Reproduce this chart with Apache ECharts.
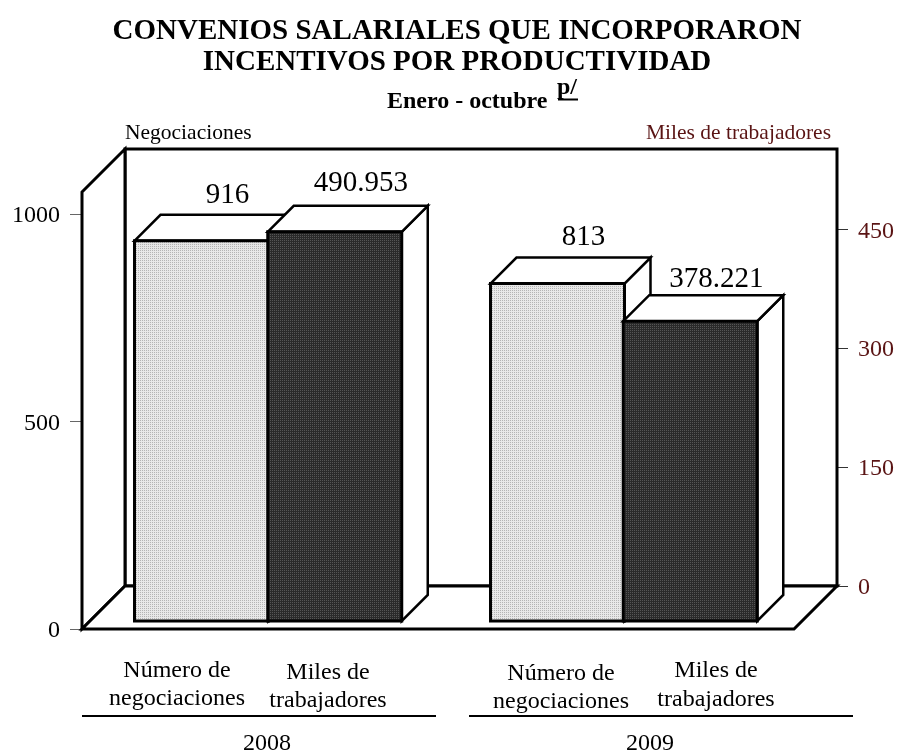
<!DOCTYPE html>
<html><head><meta charset="utf-8">
<style>html,body{margin:0;padding:0;background:#fff}#c{width:897px;height:751px}</style>
<script src="https://cdn.jsdelivr.net/npm/echarts@6/dist/echarts.min.js"></script>
</head><body><div id="c"></div>
<script>
const years = ['2008', '2009'];
const negociaciones = [916, 813];
const trabajadores = [490.953, 378.221];
const leftTicks = [0, 500, 1000];
const rightTicks = [0, 150, 300, 450];
const seriesLabels = ['Número de\nnegociaciones', 'Miles de\ntrabajadores'];

const SERIF = '"Liberation Serif","Times New Roman",serif';
const MAROON = '#5a1414';
function pattern(a, b) {
  const c = document.createElement('canvas'); c.width = 2; c.height = 2;
  const g = c.getContext('2d');
  g.fillStyle = a; g.fillRect(0, 0, 2, 2);
  g.fillStyle = b; g.fillRect(0, 0, 1, 1);
  return {image: c, repeat: 'repeat'};
}
const lightFill = pattern('#e8e8e8', '#b4b4b4');
const darkFill = pattern('#2a2a2a', '#555555');
const DEPTH = 26, WALL = 43, BW = 134;

function bar3d(fill, side, baseShift, topShift, xShift, labelDy, fmt) {
  return function (params, api) {
    const i = api.value(0), v = api.value(1);
    const p = api.coord([i, v]), p0 = api.coord([i, 0]);
    const cx = p[0] + xShift + side * BW / 2;
    const l = cx - BW / 2, r = cx + BW / 2;
    const t = p[1] + topShift, b = p0[1] + baseShift;
    const st = {fill: '#fff', stroke: '#000', lineWidth: 2.5, lineJoin: 'miter'};
    return {type: 'group', children: [
      {type: 'polygon', shape: {points: [[r, t], [r + DEPTH, t - DEPTH], [r + DEPTH, b - DEPTH], [r, b]]}, style: st},
      {type: 'polygon', shape: {points: [[l, t], [l + DEPTH, t - DEPTH], [r + DEPTH, t - DEPTH], [r, t]]}, style: st},
      {type: 'rect', shape: {x: l, y: t, width: BW, height: b - t}, style: {fill: fill, stroke: '#000', lineWidth: 3}},
      {type: 'text', x: cx + DEPTH, y: t - DEPTH - labelDy[i], style: {text: fmt(v), fill: '#000', font: '29px ' + SERIF, textAlign: 'center', textVerticalAlign: 'bottom'}}
    ]};
  };
}

function walls(params) {
  const c = params.coordSys;
  const x = c.x, y = c.y, w = c.width, h = c.height, bot = y + h;
  const st = {fill: '#fff', stroke: '#000', lineWidth: 3, lineJoin: 'miter'};
  return {type: 'group', children: [
    {type: 'polygon', shape: {points: [[x + WALL, y - WALL], [x + w + WALL, y - WALL], [x + w + WALL, bot - WALL], [x + WALL, bot - WALL]]}, style: st},
    {type: 'polygon', shape: {points: [[x, y], [x + WALL, y - WALL], [x + WALL, bot - WALL], [x, bot]]}, style: st},
    {type: 'polygon', shape: {points: [[x, bot], [x + WALL, bot - WALL], [x + w + WALL, bot - WALL], [x + w, bot]]}, style: st}
  ]};
}

const txt = (text, x, y, fs, extra) => ({type: 'text', x, y, silent: true, style: Object.assign({text, font: fs + 'px ' + SERIF, fill: '#000', textAlign: 'center', textVerticalAlign: 'middle', lineHeight: 28.5}, extra || {})});
const rule = (x1, x2, y) => ({type: 'line', shape: {x1, y1: y, x2, y2: y}, style: {stroke: '#000', lineWidth: 2}});

const chart = echarts.init(document.getElementById('c'));
chart.setOption({
  animation: false,
  backgroundColor: '#fff',
  title: [
    {text: 'CONVENIOS SALARIALES QUE INCORPORARON\nINCENTIVOS POR PRODUCTIVIDAD', left: 452, top: 11, textAlign: 'center',
     textStyle: {fontFamily: SERIF, fontWeight: 'bold', fontSize: 29, lineHeight: 31, color: '#000'}},
    {text: 'Enero - octubre', left: 382, top: 85, textStyle: {fontFamily: SERIF, fontWeight: 'bold', fontSize: 24, color: '#000'}}
  ],
  grid: [
    {left: 82, top: 192, width: 712, height: 437},
    {left: 125, top: 150, width: 712, height: 436}
  ],
  xAxis: [
    {gridIndex: 0, type: 'category', data: years, axisLabel: {show: false},
     axisLine: {show: false}, axisTick: {alignWithLabel: true, length: 12, lineStyle: {color: '#222', width: 1}}},
    {gridIndex: 1, type: 'category', data: years, show: false}
  ],
  yAxis: [
    {gridIndex: 0, type: 'value', min: 0, max: 1053, position: 'left', splitLine: {show: false},
     axisLine: {show: false},
     axisTick: {show: true, length: 12, customValues: leftTicks, lineStyle: {color: '#666', width: 1}},
     axisLabel: {margin: 22, verticalAlign: 'top', lineHeight: 4, customValues: leftTicks, formatter: v => String(v), fontFamily: SERIF, fontSize: 24, color: '#000'}},
    {gridIndex: 1, type: 'value', min: 0, max: 550, position: 'right', splitLine: {show: false},
     axisLine: {show: false},
     axisTick: {show: true, length: 12, customValues: rightTicks, lineStyle: {color: '#333', width: 1}},
     axisLabel: {margin: 22, verticalAlign: 'top', lineHeight: 4, customValues: rightTicks, formatter: v => String(v), fontFamily: SERIF, fontSize: 24, color: MAROON}}
  ],
  series: [
    {type: 'custom', name: 'walls', xAxisIndex: 0, yAxisIndex: 0, data: [[0, 0]], renderItem: walls, silent: true, z: 1, clip: false},
    {type: 'custom', name: 'Número de negociaciones', xAxisIndex: 0, yAxisIndex: 0, z: 2, silent: true, clip: false,
     data: negociaciones.map((v, i) => [i, v]),
     renderItem: bar3d(lightFill, -1, -8, -8, 8.5, [5, 6], v => String(v))},
    {type: 'custom', name: 'Miles de trabajadores', xAxisIndex: 1, yAxisIndex: 1, z: 3, silent: true, clip: false,
     data: trabajadores.map((v, i) => [i, v]),
     renderItem: bar3d(darkFill, 1, 35, 35, -35, [8, 1], v => v.toFixed(3))}
  ],
  graphic: {elements: [
    txt('p/', 567, 88, 24, {font: 'bold 24px ' + SERIF}),
    rule(558, 578, 99.5),
    txt('Negociaciones', 125, 133, 21.5, {textAlign: 'left'}),
    txt('Miles de trabajadores', 831, 133, 21.5, {textAlign: 'right', fill: MAROON}),
    txt(seriesLabels[0], 177, 684.5, 24),
    txt(seriesLabels[1], 328, 686.5, 24),
    txt(seriesLabels[0], 561, 687.5, 24),
    txt(seriesLabels[1], 716, 685, 24),
    rule(82, 436, 716),
    rule(469, 853, 716),
    txt(years[0], 267, 744, 24),
    txt(years[1], 650, 744, 24)
  ]}
});
</script></body></html>
